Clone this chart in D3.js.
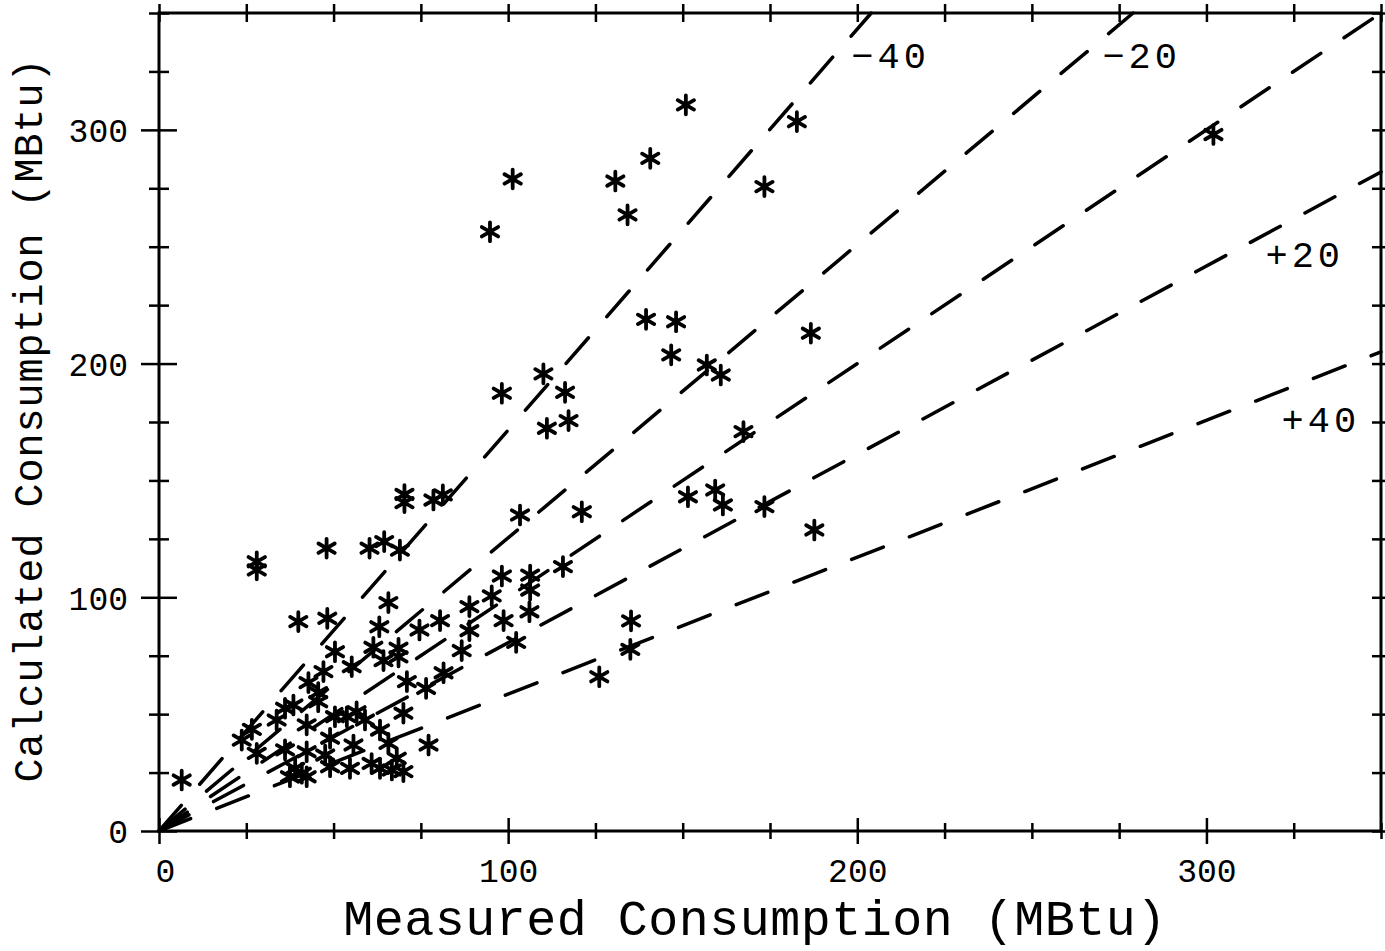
<!DOCTYPE html>
<html>
<head>
<meta charset="utf-8">
<script src="https://cdn.jsdelivr.net/npm/d3@7"></script>
<style>
body { margin: 0; background: #fff; }
text { font-family: "Liberation Mono", "DejaVu Sans Mono", monospace; fill: #000; }
</style>
</head>
<body>
<div id="chart"></div>
<script>
// measured vs calculated consumption (MBtu), one pair per house
var measured = [150.9, 182.7, 140.7, 101.3, 130.7, 173.4, 134.2, 94.8, 139.5, 148.1,
    186.7, 146.7, 156.9, 160.9, 110.1, 98.2, 116.3, 117.3, 111.1, 167.4,
    81.3, 103.4, 121.1, 151.5, 159.3, 161.5, 173.4, 187.7, 302.0, 28.0,
    28.0, 48.0, 60.3, 64.5, 69.0, 70.3, 70.3, 78.6, 65.7, 39.9,
    48.2, 63.1, 74.6, 98.2, 106.3, 106.3, 115.7, 95.3, 88.9, 80.5,
    98.7, 106.1, 88.9, 86.7, 102.3, 135.2, 135.0, 126.1, 81.5, 76.5,
    77.2, 50.4, 61.4, 68.6, 68.6, 64.3, 55.2, 47.1, 42.8, 45.6,
    45.6, 71.0, 38.5, 36.1, 33.7, 42.3, 50.4, 53.8, 56.6, 59.0,
    70.0, 26.6, 23.7, 28.0, 36.1, 42.3, 49.0, 47.6, 63.3, 55.7,
    65.7, 68.1, 60.9, 63.3, 66.7, 70.0, 49.0, 54.7, 39.0, 40.9,
    37.5, 42.3, 6.5]
var calculated = [310.7, 303.5, 287.8, 279.0, 278.1, 275.7, 263.6, 256.4, 218.9, 217.9,
    213.0, 203.7, 199.4, 195.1, 195.6, 187.3, 187.7, 175.6, 172.3, 170.9,
    143.8, 135.2, 136.6, 143.0, 145.9, 139.5, 138.8, 128.8, 298.0, 115.2,
    111.7, 121.0, 121.0, 123.8, 120.2, 144.0, 140.5, 141.6, 97.7, 89.6,
    91.0, 87.4, 86.0, 109.1, 109.5, 103.1, 113.1, 100.6, 96.0, 90.0,
    90.0, 93.8, 85.7, 77.2, 80.7, 89.9, 77.7, 66.0, 67.7, 61.0,
    36.8, 76.7, 78.6, 78.2, 74.5, 72.9, 70.3, 68.2, 63.5, 59.2,
    55.3, 63.9, 53.9, 52.5, 47.5, 45.4, 48.9, 48.9, 51.0, 47.5,
    50.4, 43.5, 38.9, 33.2, 34.7, 33.9, 39.7, 32.5, 43.2, 36.8,
    37.5, 31.1, 28.9, 26.8, 26.1, 25.4, 27.5, 26.8, 26.8, 24.7,
    23.2, 23.2, 21.8]

var tickValues = [0, 25, 50, 75, 100, 125, 150, 175, 200, 225, 250, 275, 300, 325, 350]
var labelTicks = [0, 100, 200, 300]

// percent difference lines, end points (all start at 0,0)
var refEndX = [204, 279, 350, 350, 350]
var refEndY = [350, 350, 350, 282, 205]
var refLabels = ["\u221240", "\u221220", "+20", "+40"]
var refLabelX = [198.3, 270.2, 316.9, 321.5]
var refLabelY = [326.5, 326.5, 241.3, 170.7]

var margin = { top: 13, left: 159, right: 4, bottom: 120 },
    width = 1385 - margin.left - margin.right,
    height = 951 - margin.top - margin.bottom;

var svg = d3.select("#chart")
    .append("svg")
    .attr("width", width + margin.left + margin.right)
    .attr("height", height + margin.top + margin.bottom)
    .append("g")
    .attr("transform", "translate(" + margin.left + "," + margin.top + ")");

var x = d3.scaleLinear().domain([0, 350]).range([0, width])
var y = d3.scaleLinear().domain([0, 350]).range([height, 0])

// frame
svg.append("rect")
    .attr("width", width)
    .attr("height", height)
    .attr("fill", "none")
    .attr("stroke", "#000")
    .attr("stroke-width", 3)

// ticks cross the frame: one axis outward, one inward
function ticks(axis, len, vals, tx, ty) {
    svg.append("g")
        .attr("transform", "translate(" + tx + "," + ty + ")")
        .call(axis.tickValues(vals).tickSize(len).tickSizeOuter(0).tickFormat(""))
        .call(g => g.select(".domain").remove())
        .call(g => g.selectAll("line").attr("stroke", "#000").attr("stroke-width", 2.5))
}
var minor = tickValues.filter(v => labelTicks.indexOf(v) < 0)
ticks(d3.axisBottom(x), 8, minor, 0, height)
ticks(d3.axisTop(x), 8, minor, 0, height)
ticks(d3.axisBottom(x), 13, labelTicks, 0, height)
ticks(d3.axisTop(x), 13, labelTicks, 0, height)
ticks(d3.axisTop(x), 9, tickValues, 0, 0)
ticks(d3.axisBottom(x), 9, tickValues, 0, 0)
ticks(d3.axisLeft(y), 10, minor, 0, 0)
ticks(d3.axisRight(y), 10, minor, 0, 0)
ticks(d3.axisLeft(y), 18, labelTicks, 0, 0)
ticks(d3.axisRight(y), 18, labelTicks, 0, 0)
ticks(d3.axisRight(y), 9, tickValues, width, 0)
ticks(d3.axisLeft(y), 9, tickValues, width, 0)

// tick labels
svg.append("g")
    .attr("transform", "translate(0," + height + ")")
    .call(d3.axisBottom(x).tickValues(labelTicks).tickSize(0).tickPadding(0))
    .call(g => g.select(".domain").remove())
    .selectAll("text")
    .attr("dy", null)
    .attr("y", 51)
    .attr("x", d => d == 0 ? 6 : 0)
    .style("font-size", "33px")
    .style("font-family", null)

svg.append("g")
    .call(d3.axisLeft(y).tickValues(labelTicks).tickSize(0).tickPadding(0))
    .call(g => g.select(".domain").remove())
    .selectAll("text")
    .attr("x", -31)
    .attr("dy", "0.36em")
    .style("font-size", "33px")
    .style("font-family", null)

// axis titles
svg.append("text")
    .attr("x", 596)
    .attr("y", height + 104)
    .attr("text-anchor", "middle")
    .style("font-size", "50px")
    .style("letter-spacing", "0.5px")
    .text("Measured Consumption (MBtu)")

svg.append("text")
    .attr("transform", "translate(-117," + (407) + ") rotate(-90)")
    .attr("text-anchor", "middle")
    .style("font-size", "40px")
    .style("letter-spacing", "1px")
    .text("Calculated Consumption (MBtu)")

// reference lines
var line = d3.line().x(d => x(d[0])).y(d => y(d[1]))
svg.selectAll(".ref")
    .data(refEndX.map((d, i) => [[0, 0], [d, refEndY[i]]]))
    .enter().append("path")
    .attr("class", "ref")
    .attr("d", line)
    .attr("fill", "none")
    .attr("stroke", "#000")
    .attr("stroke-width", 3.5)
    .attr("stroke-linecap", "round")
    .attr("stroke-dasharray", "34,28")

svg.selectAll(".reflabel")
    .data(refLabels)
    .enter().append("text")
    .attr("class", "reflabel")
    .attr("x", (d, i) => x(refLabelX[i]))
    .attr("y", (d, i) => y(refLabelY[i]))
    .style("font-size", "37px")
    .style("letter-spacing", "4px")
    .text(d => d)

// points
var star = d3.symbol().type(d3.symbolAsterisk).size(250)
svg.selectAll(".pt")
    .data(measured.map((d, i) => [d, calculated[i]]))
    .enter().append("path")
    .attr("class", "pt")
    .attr("d", star)
    .attr("transform", d => "translate(" + x(d[0]) + "," + y(d[1]) + ")")
    .attr("fill", "none")
    .attr("stroke", "#000")
    .attr("stroke-width", 3.8)
    .attr("stroke-linecap", "round")
</script>
</body>
</html>
